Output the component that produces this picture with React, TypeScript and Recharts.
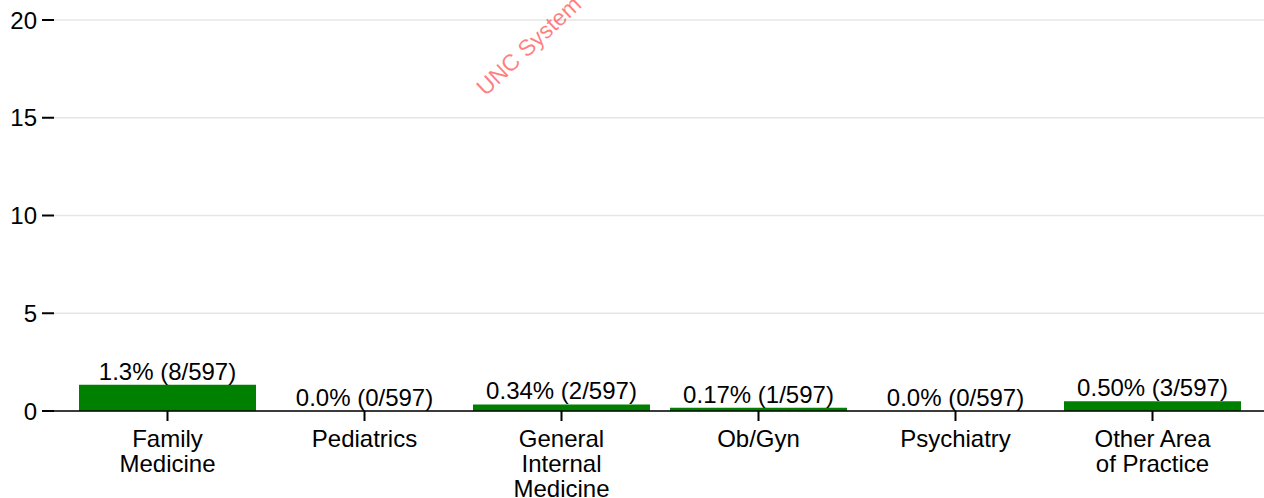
import React from "react";
import { ComposedChart, Bar, Line, XAxis, YAxis, CartesianGrid, LabelList } from "recharts";

const categories = ["Family Medicine", "Pediatrics", "General Internal Medicine", "Ob/Gyn", "Psychiatry", "Other Area of Practice"];
const tickLabels = [["Family", "Medicine"], ["Pediatrics"], ["General", "Internal", "Medicine"], ["Ob/Gyn"], ["Psychiatry"], ["Other Area", "of Practice"]];
const percents = [1.34, 0, 0.335, 0.1675, 0, 0.5025];
const barLabels = ["1.3% (8/597)", "0.0% (0/597)", "0.34% (2/597)", "0.17% (1/597)", "0.0% (0/597)", "0.50% (3/597)"];
const yTicks = [0, 5, 10, 15, 20];

const data = categories.map((name, i) => ({ name, value: percents[i], label: barLabels[i] }));

const FONT = "'Liberation Sans', Arial, sans-serif";

const XTick = (props: any) => {
  const { x, y, payload } = props;
  const lines = tickLabels[payload.index] || [String(payload.value)];
  return (
    <text x={x} y={y + 24} textAnchor="middle" fontSize={24} fill="#000" fontFamily={FONT}>
      {lines.map((l, i) => (
        <tspan key={i} x={x} dy={i === 0 ? 0 : 25}>
          {l}
        </tspan>
      ))}
    </text>
  );
};

export default function App() {
  return (
    <div style={{ position: "absolute", left: 0, top: 0, width: 1264, height: 498, fontFamily: FONT, background: "#fff", overflow: "hidden" }}>
      <ComposedChart width={1264} height={498} data={data} margin={{ top: 20, right: 0, left: 0, bottom: 0 }} barCategoryGap={10}>
        <CartesianGrid vertical={false} stroke="#e6e6e6" strokeWidth={1.5} />
        <YAxis
          type="number"
          domain={[0, 20]}
          ticks={yTicks}
          width={54}
          axisLine={false}
          tickLine={{ stroke: "#000", strokeWidth: 2 }}
          tickSize={12}
          tickMargin={5}
          tick={{ fill: "#000", fontSize: 24, fontFamily: FONT }}
        />
        <XAxis
          dataKey="name"
          interval={0}
          padding={{ left: 15, right: 13 }}
          height={87}
          axisLine={{ stroke: "#000", strokeWidth: 1.5 }}
          tickLine={{ stroke: "#000", strokeWidth: 2 }}
          tickSize={10}
          tick={<XTick />}
        />
        <Bar dataKey="value" fill="#008000" isAnimationActive={false} />
        <Line dataKey="value" stroke="none" dot={false} activeDot={false} isAnimationActive={false}>
          <LabelList dataKey="label" position="top" offset={5} fill="#000" fontSize={24} fontFamily={FONT} />
        </Line>
      </ComposedChart>
      <div
        style={{
          position: "absolute",
          left: 529,
          top: 46,
          transform: "translate(-50%, -50%) rotate(-43deg)",
          fontSize: 23,
          color: "rgba(255, 0, 0, 0.5)",
          whiteSpace: "nowrap",
          lineHeight: "23px",
          pointerEvents: "none",
        }}
      >
        UNC System
      </div>
    </div>
  );
}
